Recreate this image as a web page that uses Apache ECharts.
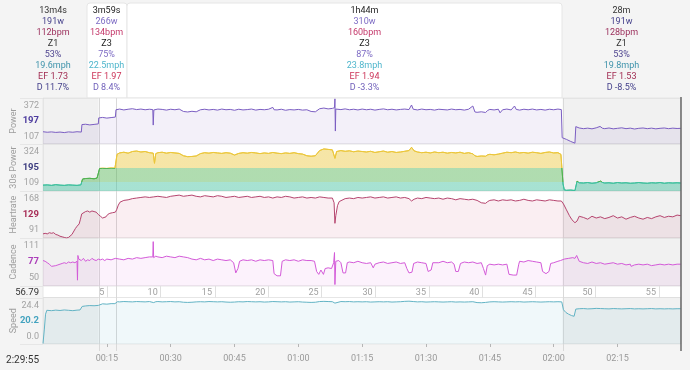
<!DOCTYPE html>
<html><head><meta charset="utf-8">
<script src="https://cdn.jsdelivr.net/npm/echarts@6/dist/echarts.min.js"></script>
<style>html,body{margin:0;padding:0;background:#f4f4f4}#c{width:690px;height:370px}</style>
</head><body><div id="c"></div>
<script>
// ---------------- DATA ----------------
const totalMinutes = 149.92;
const totalTimeLabel = '2:29:55';
const totalDistanceLabel = '56.79';
const intervalBounds = [0, 13.07, 17.05, 122.1, 149.92];
const intervalSelected = [false, true, true, false];
const intervalHeader = [
  ['13m4s','191w','112bpm','Z1','53%','19.6mph','EF 1.73','D 11.7%'],
  ['3m59s','266w','134bpm','Z3','75%','22.5mph','EF 1.97','D 8.4%'],
  ['1h44m','310w','160bpm','Z3','87%','23.8mph','EF 1.94','D -3.3%'],
  ['28m','191w','128bpm','Z1','53%','19.8mph','EF 1.53','D -8.5%']
];
const timeTicks = [15,30,45,60,75,90,105,120,135];
const timeTickLabels = ['00:15','00:30','00:45','01:00','01:15','01:30','01:45','02:00','02:15'];
const mileTimes = [15.1,27.66,40.41,52.94,65.48,78.17,90.70,103.22,115.77,129.86,144.74];
const mileLabels = ['5','10','15','20','25','30','35','40','45','50','55'];
const panelNames = ['Power','30s Power','Heartrate','Cadence','Speed'];
const powerAxisLabels = ['372','197','107'];
const power30AxisLabels = ['324','195','109'];
const hrAxisLabels = ['168','129','91'];
const cadenceAxisLabels = ['111','77','50'];
const speedAxisLabels = ['24.4','20.2','0.0'];
const zoneLimits = [187, 249.5];

const power = [[0,177],[1,174],[2,176],[3,173],[4,175],[5,172],[6,176],[7,174],[8,177],[9,175],
[9.15,219],[10,221],[11,217],[12,220],[13,223],
[13.1,258],[14,261],[15,257],[16,260],[17,263],
[17.15,306],[18,310],[19,305],[20,309],[21,312],[22,307],[23,310],[24,306],[25,309],[25.8,307],[25.9,216],[26.05,305],[27,310],[28,308],[29,304],[30,309],[31,306],[32,310],[33,296],[34,293],[35,297],[36,294],[37,306],[38,309],[39,305],[40,308],[41,304],[42,310],[43,306],[44,308],[45,303],[46,309],[47,305],[48,307],[49,310],[50,304],[51,308],[52,306],[53,309],[54,320],[54.3,306],[55,305],[56,309],[57,303],[58,307],[59,305],[60,308],[61,304],[62,306],[63,296],[64,294],[65,312],[66,316],[67,311],[68,314],[68.5,318],[68.6,370],[68.7,181],[68.8,310],[69,312],[70,307],[71,311],[72,306],[73,309],[74,305],[75,310],
[76,306],[77,309],[78,304],[79,308],[80,311],[81,306],[82,309],[83,305],[84,308],[85,310],[86,307],[86.6,334],[87,309],[88,305],[89,310],[90,306],[91,308],[92,304],[93,309],[94,307],[95,305],[96,310],[97,306],[98,308],[99,304],[100,309],[101,328],[101.5,293],[102,291],[103,294],[104,290],[104.5,302],[105,308],[106,305],[107,309],[107.4,288],[108,306],[109,310],[110,305],[110.8,328],[111.2,308],[112,304],[113,309],[114,306],[115,310],[116,305],[117,308],[118,304],[119,309],[120,306],[121,310],[121.8,307],
[122,142],[123,132],[124,120],[125,110],[125.2,207],[126,199],[127,195],[128,198],[129,194],[130,200],[130.9,208],[131.5,197],[132,195],[133,199],[134,194],[135,197],[136,200],[137,195],[138,198],[139,193],[140,197],[141,199],[142,195],[143,198],[144,194],[145,197],[146,199],[147,195],[148,198],[149,196],[149.9,197]];

const power30 = [[0,175],[1,176],[2,174],[3,177],[4,175],[5,174],[6,176],[7,175],[8,174],[8.9,176],[9.3,201],[10,203],[11,204],[12,202],[12.7,205],[13.3,246],[14,247],[15,246],[16,248],[16.9,247],[17.4,306],
[18,312],[19,315],[20,311],[21,318],[22,320],[23,316],[24,318],[25,313],[25.9,311],[26.2,268],[26.5,309],[27,313],[28,315],[29,311],[30,314],[31,312],[32,310],[33,300],[34,296],[35,297],[36,299],[37,309],[38,313],[39,311],[40,314],[41,312],[42,310],[43,313],[44,311],[45,303],[46,310],[47,313],[48,311],[49,314],[50,312],[51,309],[52,312],[53,310],[54,314],[55,311],[56,309],[57,312],[58,310],[59,313],[60,309],[61,307],[62,300],[63,298],[64,300],[65,322],[66,329],[67,327],[68,325],[68.6,289],[69,318],[70,322],[71,319],[72,321],[73,317],[74,320],[75,318],
[76,316],[77,319],[78,314],[79,317],[80,320],[81,315],[82,318],[83,314],[84,316],[85,319],[86,322],[86.6,336],[87.2,321],[88,316],[89,313],[90,315],[91,312],[92,316],[93,313],[94,315],[95,311],[96,314],[97,312],[98,315],[99,310],[100,313],[101,308],[101.5,300],[102,297],[103,299],[104,298],[104.5,304],[105,306],[106,304],[107,307],[108,311],[109,315],[110,313],[111,316],[112,312],[113,314],[114,311],[115,315],[116,313],[117,310],[118,314],[119,316],[120,312],[121,313],[121.7,306],
[122.2,180],[122.5,155],[123,153],[124,154],[125,152],[125.2,156],[125.5,192],[126,185],[127,184],[128,186],[129,183],[130,185],[131,192],[131.5,186],[132,184],[133,185],[134,183],[135,186],[136,184],[137,185],[138,183],[139,184],[140,186],[141,184],[142,183],[143,185],[144,184],[145,186],[146,183],[147,185],[148,184],[149,185],[149.9,184]];

const heartrate = [[0,97],[0.5,98],[1,97],[1.5,99],[2,98],[2.5,99],[3,96],[3.5,95],[4,93],[4.5,92],[5,91],[5.5,90],[6,91],[6.3,92],[6.8,96],[7.2,99],[7.6,106],[8,110],[8.5,114],[8.8,122],[9.1,131],[9.4,134],[10,135],[10.5,136],[11,134],[11.5,136],[12,135],[12.5,134],[13,130],[13.5,127],[14,124],[14.4,123],[14.8,126],[15.2,130],[15.7,132],[16.3,133],[17,134],[17.3,138],[17.7,146],[18.1,151],[19,154],[20,155],[21,157],[22,158],[23,159],[24,160],[25,159],[26,160],[27,161],[28,160],[29,159],[30,161],[31,162],[32,163],[33,161],[34,162],[35,163],[36,161],[37,160],[38,162],[39,161],[40,160],[41,162],[42,161],[43,159],[44,160],[45,161],[46,159],[47,160],[48,161],[49,159],[50,160],[51,161],[52,159],[53,160],[54,158],[55,160],[56,159],[57,161],[58,160],[59,158],[60,159],[61,160],[62,158],[63,159],[64,158],[65,160],[66,159],[67,158],[68,158],[68.4,150],[68.6,115],[68.8,128],[69.2,145],[69.6,152],[70,155],[71,157],[72,158],[73,157],[74,159],[75,158],
[76,159],[77,160],[78,158],[79,159],[80,160],[81,158],[82,159],[83,160],[84,158],[85,159],[86,157],[86.6,153],[87.2,156],[88,158],[89,157],[90,159],[91,158],[92,157],[93,158],[94,156],[95,158],[96,157],[97,155],[98,157],[99,156],[100,155],[101,156],[102,154],[103,150],[104,149],[104.5,152],[105,154],[106,155],[107,153],[108,155],[109,154],[110,155],[111,153],[112,154],[113,156],[114,154],[115,153],[116,155],[117,154],[118,153],[119,155],[120,154],[121,153],[121.8,153],
[122.3,148],[123,138],[123.7,128],[124.3,121],[125,116],[125.5,119],[126,127],[127,125],[128,122],[129,127],[130,124],[131,126],[132,123],[133,125],[134,128],[135,124],[136,126],[137,122],[138,125],[139,127],[140,124],[141,122],[142,125],[143,123],[144,126],[145,128],[146,125],[147,127],[148,126],[149,129],[149.9,128]];

const cadence = [[0,83],[0.5,82],[1,80],[1.5,78],[2,75],[2.4,74],[3,76],[3.5,77],[4,78],[4.5,79],[5,80],[5.5,79],[6,81],[6.5,80],[7,81],[7.5,80],[8,82],[8.1,56],[8.2,90],[8.4,85],[9,83],[9.5,86],[10,82],[10.5,84],[11,83],[11.5,86],[12,84],[12.5,83],[13,85],[13.5,84],[14,85],[14.5,83],[15,85],[16,84],[17,86],[18,85],[19,84],[20,86],[21,85],[22,87],[23,86],[24,87],[25,88],[25.8,88],[25.9,109],[26,87],[26.5,89],[27,88],[28,87],[29,89],[30,88],[31,87],[32,89],[33,88],[34,87],[34.5,86],[35,85],[36,84],[37,86],[38,84],[39,85],[40,83],[41,85],[42,84],[43,83],[44,84],[44.8,80],[45.3,66],[45.8,72],[46.2,82],[47,84],[48,83],[49,84],[50,82],[51,84],[52,83],[53,84],[54,83],[54.3,65],[55,62],[55.8,62],[56.2,82],[57,84],[58,83],[59,84],[60,82],[61,84],[62,83],[63,83],[63.8,82],[64.3,68],[64.8,64],[65.3,70],[65.9,64],[66.3,72],[67,73],[67.8,72],[68.3,80],[68.5,94],[68.6,50],[68.8,82],[69.5,83],[70,80],[70.5,66],[71.1,66],[71.5,80],[72,81],[73,80],[74,82],[75,80],
[76,79],[77,80],[77.6,73],[78,78],[79,80],[80,81],[81,79],[82,80],[83,81],[84,79],[85,80],[85.5,72],[86,66],[86.7,67],[87.1,79],[88,81],[89,80],[90,79],[90.5,68],[91.2,70],[91.6,80],[92,81],[93,80],[94,82],[95,80],[96,81],[96.6,78],[97,68],[97.6,68],[98.1,79],[99,81],[100,80],[101,81],[102,79],[103,80],[103.5,72],[104,63],[104.4,76],[105,78],[106,77],[107,78],[108,77],[109,78],[109.5,64],[110.5,63],[111.3,63],[111.8,78],[112,82],[113,81],[114,83],[115,82],[116,81],[117,80],[117.4,68],[118.2,65],[118.9,68],[119.3,79],[120,80],[121,82],[121.6,83],[122.5,85],[123.5,86],[124.5,87],[125,86],[125.4,90],[126,82],[127,80],[128,79],[129,81],[130,79],[131,80],[132,78],[133,79],[134,80],[135,78],[136,79],[137,77],[138,78],[138.2,75],[139,77],[140,78],[141,77],[142,78],[143,76],[144,77],[145,78],[146,77],[147,78],[148,77],[149,78],[149.9,78]];

const speed = [[0,0.3],[0.3,8],[0.6,17],[0.9,19.2],[2,19.0],[3,19.3],[4,19.1],[5,19.4],[6,19.2],[7,19.0],[8,19.3],[8.7,19.4],[9.2,21.4],[9.6,21.8],[10,21.7],[11,21.9],[12,21.8],[13,22.0],[13.4,22.8],[14,22.9],[15,22.7],[16,23.0],[16.9,23.0],[17.5,24.1],[18,24.0],[19,24.2],[20,24.1],[21,24.0],[22,24.2],[23,24.1],[24,24.0],[25,24.2],[26,23.6],[26.5,24.1],[27,24.2],[28,24.0],[29,24.1],[30,24.2],[31,24.0],[32,24.1],[33,23.8],[34,23.7],[35,23.8],[36,24.0],[37,24.1],[38,24.0],[39,24.2],[40,24.1],[41,24.0],[42,24.1],[43,23.9],[44,23.8],[45,23.9],[46,24.1],[47,24.0],[48,24.2],[49,24.1],[50,24.0],[51,24.1],[52,23.9],[53,24.0],[54,24.2],[55,24.1],[56,24.0],[57,24.1],[58,23.9],[59,24.0],[60,24.1],[61,23.9],[62,23.8],[63,23.7],[64,23.8],[65,24.2],[66,24.3],[67,24.2],[68,24.1],[68.6,23.3],[69,24.0],[70,24.2],[71,24.1],[72,24.2],[73,24.0],[74,24.1],[75,24.0],[76,24.1],[77,23.9],[78,24.0],[79,24.1],[80,24.0],[81,24.1],[82,23.9],[83,24.0],[84,24.1],[85,24.3],[86,24.4],[87,24.2],[88,24.0],[89,24.1],[90,23.9],[91,24.0],[92,24.1],[93,24.0],[94,23.9],[95,24.0],[96,24.1],[97,23.9],[98,24.0],[99,23.9],[100,24.0],[101,24.1],[102,23.6],[103,23.5],[104,23.7],[105,24.0],[106,24.1],[107,24.0],[108,23.9],[109,24.0],[110,24.1],[111,24.0],[112,24.1],[113,23.9],[114,24.0],[115,24.1],[116,24.0],[117,23.9],[118,24.0],[119,24.1],[120,24.0],[121,24.1],[121.9,24.0],
[122.3,19.5],[122.9,17.9],[123.5,17.0],[124.2,16.2],[124.8,15.8],[125.2,19.9],[126,20.1],[127,20.2],[128,20.0],[129,20.1],[130,20.3],[131,20.2],[132,20.1],[133,20.0],[134,20.2],[135,20.1],[136,20.0],[137,20.1],[138,20.2],[139,20.0],[140,20.1],[141,20.0],[142,20.1],[143,20.2],[144,20.0],[145,20.1],[146,20.0],[147,20.1],[148,20.0],[149,20.1],[149.9,20.1]];

// ---------------- LAYOUT / STYLE ----------------
const FONT = 'Roboto, "Noto Sans", sans-serif';
const GL = 43, GR = 9;
const panels = [
  {name:panelNames[0], top:98,  height:46,   min:105, max:375,  labels:powerAxisLabels,   mid:'#4d3c9e', line:'#7b5ec2', fill:'rgba(123,94,194,0.09)', data:power},
  {name:panelNames[1], top:144, height:47,   min:150, max:350,  labels:power30AxisLabels, mid:'#3d3d80', line:null,      fill:null,                   data:power30},
  {name:panelNames[2], top:191, height:47,   min:90,  max:170,  labels:hrAxisLabels,      mid:'#a82f58', line:'#b5446e', fill:'rgba(200,60,100,0.085)', data:heartrate},
  {name:panelNames[3], top:238, height:48,   min:48,  max:114,  labels:cadenceAxisLabels, mid:'#ac3fba', line:'#d35ad8', fill:'rgba(210,80,216,0.075)', data:cadence},
  {name:panelNames[4], top:297.5, height:46.5, min:0, max:26.5, labels:speedAxisLabels,   mid:'#44a3bf', line:'#62b3c4', fill:'rgba(90,176,200,0.09)', data:speed}
];
const distGrid = {top:286, height:11.5};

const grids = [], xAxes = [], yAxes = [], series = [];
const overlay = [];
for (let i = 0; i < intervalSelected.length; i++) {
  if (!intervalSelected[i]) overlay.push([{xAxis: intervalBounds[i]}, {xAxis: intervalBounds[i+1]}]);
}
const gridOf = [0,1,2,3,5];
panels.forEach((p, k) => {
  const gi = gridOf[k];
  const span = p.max - p.min;
  const pos = [p.min + span*5/6, p.min + span/2, p.min + span/6];
  grids[gi] = {left:GL, right:GR, top:p.top, height:p.height, show:true, backgroundColor:'#ffffff', borderColor:'#e6e6e6', borderWidth:1, outerBoundsMode:'none'};
  yAxes.push({
    gridIndex:gi, type:'value', min:p.min, max:p.max,
    name:p.name, nameLocation:'middle', nameRotate:90, nameGap:25, nameMoveOverlap:false,
    nameTextStyle:{color:'#9d9d9d', fontSize:9, fontFamily:FONT},
    axisLine:{show:false}, axisTick:{show:false}, splitLine:{show:false},
    axisLabel:{customValues:pos, margin:4, fontSize:9, color:'#a3a3a3', fontFamily:FONT,
      formatter:(v)=>{ let idx=0, best=1e9; pos.forEach((q,j)=>{ if(Math.abs(q-v)<best){best=Math.abs(q-v); idx=j;} });
        return idx===1 ? '{m|'+p.labels[1]+'}' : p.labels[idx]; },
      rich:{m:{color:p.mid, fontSize:9.5, fontWeight:'bold', fontFamily:FONT}}}
  });
  const s = {
    type:'line', xAxisIndex:gi, yAxisIndex:k, data:p.data, showSymbol:false, symbol:'none',
    animation:false, silent:true,
    markArea:{silent:true, itemStyle:{color:'rgba(0,0,0,0.055)'}, data:overlay}
  };
  if (p.line) { s.lineStyle = {color:p.line, width:1}; s.areaStyle = {color:p.fill, opacity:1}; s.itemStyle = {color:p.line}; }
  else { s.lineStyle = {width:1}; s.areaStyle = {opacity:0.45}; }
  series.push(s);
});
grids[4] = {left:GL, right:GR, top:distGrid.top, height:distGrid.height, show:true, backgroundColor:'#ffffff', borderColor:'#e6e6e6', borderWidth:1, outerBoundsMode:'none'};
yAxes.push({gridIndex:4, type:'value', min:0, max:1, show:false});

for (let gi = 0; gi < 6; gi++) {
  const ax = {gridIndex:gi, type:'value', min:0, max:totalMinutes, axisLine:{show:false}, splitLine:{show:false}, axisTick:{show:false}, axisLabel:{show:false}};
  if (gi === 4) {
    ax.axisTick = {show:true, inside:true, length:11.5, customValues:mileTimes, lineStyle:{color:'#e0e0e0'}};
    ax.axisLabel = {show:true, inside:true, customValues:mileTimes, margin:4.5, fontSize:9, color:'#a0a0a0', fontFamily:FONT,
      align:'right', verticalAlign:'middle', padding:[0,3,0,0],
      formatter:(v)=>{ let idx=0, best=1e9; mileTimes.forEach((q,j)=>{ if(Math.abs(q-v)<best){best=Math.abs(q-v); idx=j;} }); return mileLabels[idx]; }};
  }
  if (gi === 5) {
    ax.offset = 6.5;
    ax.axisTick = {show:true, customValues:timeTicks, length:3, lineStyle:{color:'#b5b5b5'}};
    ax.axisLabel = {show:true, customValues:timeTicks, margin:4, fontSize:9, color:'#999', fontFamily:FONT,
      formatter:(v)=>{ let idx=0, best=1e9; timeTicks.forEach((q,j)=>{ if(Math.abs(q-v)<best){best=Math.abs(q-v); idx=j;} }); return timeTickLabels[idx]; }};
  }
  xAxes.push(ax);
}

const chart = echarts.init(document.getElementById('c'), null, {renderer:'canvas', width:690, height:370});
chart.setOption({
  backgroundColor:'#f4f4f4',
  animation:false,
  grid:grids, xAxis:xAxes, yAxis:yAxes, series:series,
  visualMap:[{show:false, type:'piecewise', seriesIndex:1, dimension:1,
    pieces:[{lt:zoneLimits[0], color:'#3cbf9c'},{gte:zoneLimits[0], lt:zoneLimits[1], color:'#4fb24f'},{gte:zoneLimits[1], color:'#ebc63a'}]}]
});

// ---------------- GRAPHIC (header, boundaries) ----------------
const g = [];
const headerBoxes = [null, [87,127], [127,562], null];
headerBoxes.forEach(b => { if (b) g.push({type:'rect', z:-1, shape:{x:b[0], y:3, width:b[1]-b[0], height:95, r:[3,3,0,0]}, style:{fill:'#ffffff', stroke:'#e6e6e6', lineWidth:1}}); });
const headerCenters = [53, 106.5, 364.5, 621.5];
const colUnsel = ['#333333','#433f8a','#9b2f5c','#333333','#4f4590','#3f93ab','#a12c52','#433f8a'];
const colSel   = ['#222222','#7d6bc4','#c4386a','#222222','#7d6bc4','#4fb6cc','#cc3458','#6f5fba'];
intervalHeader.forEach((lines, i) => {
  const cols = intervalSelected[i] ? colSel : colUnsel;
  lines.forEach((t, j) => {
    g.push({type:'text', z:5, x:headerCenters[i], y:10.3 + j*11.07,
      style:{text:t, fill:cols[j], font:'9px ' + FONT, align:'center', verticalAlign:'middle', textAlign:'center', textVerticalAlign:'middle'}});
  });
});
// panel separators extending into the label column
[98, 144, 191, 238, 286, 297.5, 344].forEach(y => {
  const yy = Math.round(y) + 0.5;
  g.push({type:'line', z:1, shape:{x1:20, y1:yy, x2:GL, y2:yy}, style:{stroke:'#e6e6e6', lineWidth:1}});
});
const yTop = 98, yBot = 351;
[intervalBounds[1], intervalBounds[2], intervalBounds[3]].forEach(t => {
  const px = Math.round(chart.convertToPixel({xAxisIndex:0}, t)) + 0.5;
  g.push({type:'line', z:1, shape:{x1:px, y1:yTop, x2:px, y2:yBot}, style:{stroke:'#d9d9d9', lineWidth:1}});
});
const endX = chart.convertToPixel({xAxisIndex:0}, totalMinutes);
g.push({type:'line', z:10, shape:{x1:endX, y1:97, x2:endX, y2:351}, style:{stroke:'#5f5f5f', lineWidth:1.4}});
g.push({type:'text', z:5, x:39, y:360, style:{text:totalTimeLabel, fill:'#333', font:'10px ' + FONT, align:'right', verticalAlign:'middle', textAlign:'right', textVerticalAlign:'middle'}});
g.push({type:'text', z:5, x:39, y:292.5, style:{text:totalDistanceLabel, fill:'#333', font:'9.5px ' + FONT, align:'right', verticalAlign:'middle', textAlign:'right', textVerticalAlign:'middle'}});
chart.setOption({graphic:{elements:g}});
</script>
</body></html>
